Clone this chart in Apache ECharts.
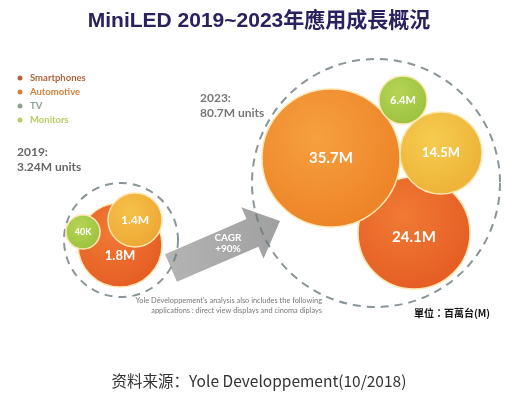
<!DOCTYPE html>
<html>
<head>
<meta charset="utf-8">
<script src="https://cdn.jsdelivr.net/npm/echarts@6/dist/echarts.min.js"></script>
<style>
  html, body { margin: 0; padding: 0; background: #fff; }
  #chart { width: 518px; height: 399px; }
</style>
</head>
<body>
<div id="chart"></div>
<script>
// values (millions of units), in drawing order
const categories = ['Smartphones', 'Automotive', 'TV', 'Monitors'];
const legendColors = ['#b4643c', '#d4803e', '#8ea493', '#bccb62'];
const totals = ['3.24M units', '80.7M units'];
const labels2019 = ['1.8M', '40K', '1.4M'];
const values2019 = [1.8, 0.04, 1.4];
const labels2023 = ['24.1M', '35.7M', '14.5M', '6.4M'];
const values2023 = [24.1, 35.7, 14.5, 6.4];

// layout: bubble centre (x, y), diameter and label offset, in page units
const layout2019 = [[120, 245, 84, 11], [83, 232, 34, 0], [135, 220, 54, 0]];
const layout2023 = [[414, 233, 112, 4], [331, 158, 138, 0], [441, 153, 82, 0], [403, 100, 48, 0]];
const colors2019 = [['#f07a34', '#e45a22'], ['#b6d456', '#98c03c'], ['#f6c24a', '#eca430']];
const colors2023 = [['#f07a34', '#e45a22'], ['#f6a040', '#ec8024'], ['#f6cc50', '#ebb034'], ['#b6d456', '#98c03c']];
const fontSizes2019 = [13, 9, 12];
const fontSizes2023 = [15, 15, 13, 11];

function grad(c) {
  return new echarts.graphic.RadialGradient(0.4, 0.35, 0.75, [
    { offset: 0, color: c[0] },
    { offset: 1, color: c[1] }
  ]);
}

function bubbles(labels, values, layout, colors, sizes) {
  return values.map((v, i) => ({
    value: [layout[i][0], layout[i][1], v],
    symbolSize: layout[i][2],
    itemStyle: { color: grad(colors[i]) },
    label: { formatter: labels[i], fontSize: sizes[i], offset: [0, layout[i][3]] }
  }));
}

// arrow shape (decoration)
const T = [171, 268], P = [280, 221];
const len = Math.hypot(P[0] - T[0], P[1] - T[1]);
const u = [(P[0] - T[0]) / len, (P[1] - T[1]) / len];
const n = [-u[1], u[0]];
const B = [P[0] - 30 * u[0], P[1] - 30 * u[1]];
const off = (p, k) => [p[0] + k * n[0], p[1] + k * n[1]];
const arrowPts = [off(T, -15), off(B, -15), off(B, -28), P, off(B, 28), off(B, 15), off(T, 15)];

const chart = echarts.init(document.getElementById('chart'));
chart.setOption({
  backgroundColor: '#fff',
  animation: false,
  title: {
    text: 'MiniLED 2019~2023年應用成長概況',
    left: 'center',
    top: 6,
    textStyle: {
      fontFamily: 'Liberation Sans, Noto Sans CJK TC',
      fontSize: 21,
      fontWeight: 'bold',
      color: '#2b2160'
    }
  },
  grid: { left: 0, right: 0, top: 0, bottom: 0 },
  xAxis: { type: 'value', min: 0, max: 518, show: false },
  yAxis: { type: 'value', min: 0, max: 399, inverse: true, show: false },
  graphic: [
    {
      type: 'polygon',
      z: 0,
      shape: { points: arrowPts },
      style: {
        fill: new echarts.graphic.LinearGradient(0, 0, 1, 0, [
          { offset: 0, color: '#b4b4b4' },
          { offset: 1, color: '#a0a0a0' }
        ])
      }
    },
    {
      type: 'text', z: 5, x: 228, y: 243,
      style: { text: 'CAGR\n+90%', fill: '#fff', font: 'bold 10px Lato', align: 'center', verticalAlign: 'middle', lineHeight: 11 }
    },
    ...categories.map((c, i) => ({
      type: 'group',
      children: [
        { type: 'circle', shape: { cx: 20, cy: 78 + i * 14, r: 2.5 }, style: { fill: legendColors[i] } },
        { type: 'text', x: 30, y: 78 + i * 14, style: { text: c, fill: legendColors[i], font: 'bold 9.5px Lato', verticalAlign: 'middle' } }
      ]
    })),
    {
      type: 'text', x: 17, y: 145,
      style: { text: '2019:\n' + totals[0], fill: '#666', font: 'bold 12px Lato', lineHeight: 15 }
    },
    {
      type: 'text', x: 200, y: 91,
      style: { text: '2023:\n' + totals[1], fill: '#777', font: 'bold 12px Lato', lineHeight: 15 }
    },
    {
      type: 'text', x: 322, y: 306,
      style: {
        text: "Yole Développement's analysis also includes the following\napplications : direct view displays and cinoma diplays",
        fill: '#777', font: '7.4px Lato', align: 'right', verticalAlign: 'middle', lineHeight: 10
      }
    },
    {
      type: 'text', x: 490, y: 313,
      style: { text: '單位：百萬台(M)', fill: '#111', font: 'bold 10px "Noto Sans CJK TC"', align: 'right', verticalAlign: 'middle' }
    },
    {
      type: 'text', x: 259, y: 381,
      style: { text: '资料来源：Yole Developpement(10/2018)', fill: '#333', font: '15.5px "Noto Sans CJK SC"', align: 'center', verticalAlign: 'middle' }
    }
  ],
  series: [
    {
      type: 'scatter',
      z: 1,
      silent: true,
      symbol: 'circle',
      data: [
        { value: [121, 240], symbolSize: 114 },
        { value: [376, 183], symbolSize: 248 }
      ],
      itemStyle: {
        color: 'rgba(0,0,0,0)',
        borderColor: '#6b7a80',
        borderWidth: 2,
        borderType: [8, 6]
      }
    },
    {
      type: 'scatter',
      z: 2,
      symbol: 'circle',
      data: bubbles(labels2019, values2019, layout2019, colors2019, fontSizes2019)
        .concat(bubbles(labels2023, values2023, layout2023, colors2023, fontSizes2023)),
      itemStyle: { borderColor: '#fde6b0', borderWidth: 1.5, opacity: 1 },
      label: {
        show: true,
        position: 'inside',
        color: '#fff',
        fontWeight: 'bold',
        fontFamily: 'Lato'
      },
      emphasis: { disabled: true }
    }
  ]
});
</script>
</body>
</html>
